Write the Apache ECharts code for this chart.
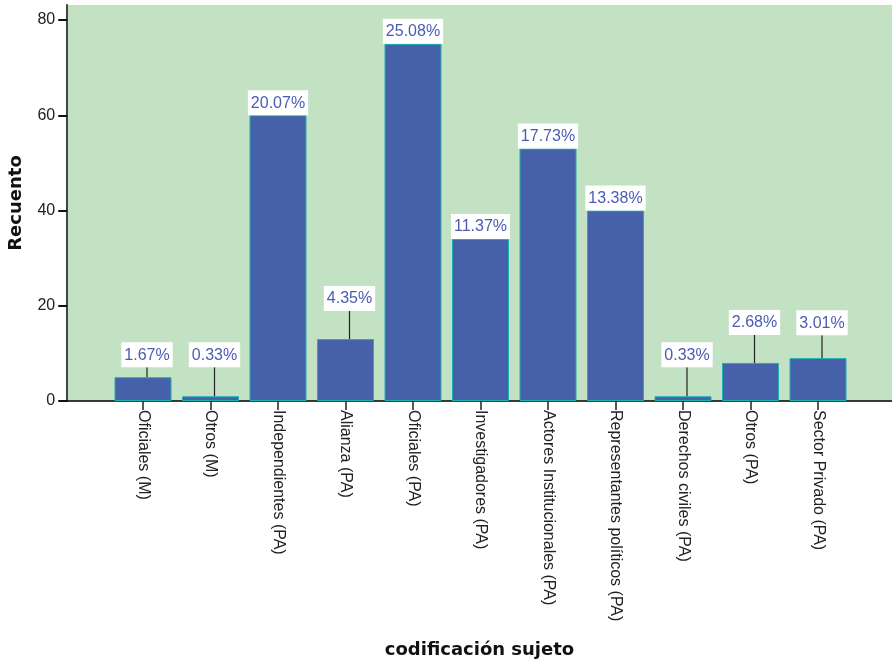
<!DOCTYPE html>
<html>
<head>
<meta charset="utf-8">
<script src="https://cdn.jsdelivr.net/npm/echarts@6/dist/echarts.min.js"></script>
<style>
  html, body { margin: 0; padding: 0; background: #fff; }
  #chart { width: 892px; height: 662px; }
</style>
</head>
<body>
<div id="chart"></div>
<script>
// categorías y recuentos
var categorias = ['Oficiales (M)', 'Otros (M)', 'Independientes (PA)', 'Alianza (PA)', 'Oficiales (PA)',
    'Investigadores (PA)', 'Actores Institucionales (PA)', 'Representantes políticos (PA)',
    'Derechos civiles (PA)', 'Otros (PA)', 'Sector Privado (PA)'];
var recuento = [5, 1, 60, 13, 75, 34, 53, 40, 1, 8, 9];
var yTicks = [0, 20, 40, 60, 80];

// desplazamiento vertical de las etiquetas (px) para las barras bajas
var labelLift = [10, 29, 0, 28, 0, 0, 0, 0, 29, 28, 23];

var total = recuento.reduce(function (a, b) { return a + b; }, 0);
var fuente = '"Liberation Sans", Arial, sans-serif';

var datos = recuento.map(function (v, i) {
    return { value: v, labelLine: { show: labelLift[i] > 0 } };
});

var myChart = echarts.init(document.getElementById('chart'));
myChart.setOption({
    animation: false,
    grid: [
        // fondo verde y ejes exteriores
        { left: 67, top: 5, right: 0, bottom: 261, show: true, backgroundColor: '#c3e1c3', borderWidth: 0, outerBoundsMode: 'none' },
        // zona de las barras
        { left: 109.25, top: 20, right: 40.25, bottom: 261, outerBoundsMode: 'none' }
    ],
    xAxis: [
        {
            gridIndex: 0, type: 'value', min: 0, max: 1,
            axisLine: { show: true, lineStyle: { color: '#000', width: 1.5 } },
            axisTick: { show: false }, axisLabel: { show: false }, splitLine: { show: false },
            name: 'codificación sujeto', nameLocation: 'middle', nameGap: 240,
            nameTextStyle: { fontFamily: '"DejaVu Sans", sans-serif', fontWeight: 'bold', fontSize: 18, color: '#111' }
        },
        {
            gridIndex: 1, type: 'category', data: categorias,
            axisLine: { show: false },
            axisTick: { show: true, alignWithLabel: true, length: 9, lineStyle: { color: '#222', width: 1.5 } },
            axisLabel: { rotate: -90, margin: 9, fontFamily: fuente, fontSize: 16, color: '#222', interval: 0 }
        }
    ],
    yAxis: [
        {
            gridIndex: 0, type: 'value', min: 0, max: 1,
            axisLine: { show: true, lineStyle: { color: '#444', width: 2 } },
            axisTick: { show: false }, axisLabel: { show: false }, splitLine: { show: false },
            name: 'Recuento', nameLocation: 'middle', nameGap: 42,
            nameTextStyle: { fontFamily: '"DejaVu Sans", sans-serif', fontWeight: 'bold', fontSize: 18, color: '#111' }
        },
        {
            gridIndex: 1, type: 'value', min: yTicks[0], max: yTicks[yTicks.length - 1], interval: 20,
            offset: 42,
            axisLine: { show: false },
            axisTick: { show: true, length: 9, lineStyle: { color: '#111', width: 2 } },
            axisLabel: { margin: 12, fontFamily: fuente, fontSize: 16, color: '#222' },
            splitLine: { show: false }
        }
    ],
    series: [{
        type: 'bar',
        xAxisIndex: 1,
        yAxisIndex: 1,
        data: datos,
        barWidth: 57,
        itemStyle: { color: '#4660aa', borderColor: '#1fb0b0', borderWidth: 1 },
        label: {
            show: true,
            position: 'top',
            distance: 0,
            formatter: function (p) { return (p.value / total * 100).toFixed(2) + '%'; },
            backgroundColor: '#fff',
            padding: [5, 3, 4, 3],
            color: '#4a5cb2',
            fontFamily: fuente,
            fontSize: 16
        },
        labelLine: { show: true, lineStyle: { color: '#222', width: 1.2 } },
        labelLayout: function (params) {
            var lift = labelLift[params.dataIndex];
            return lift ? { dy: -lift, dx: 4 } : {};
        }
    }]
});
</script>
</body>
</html>
